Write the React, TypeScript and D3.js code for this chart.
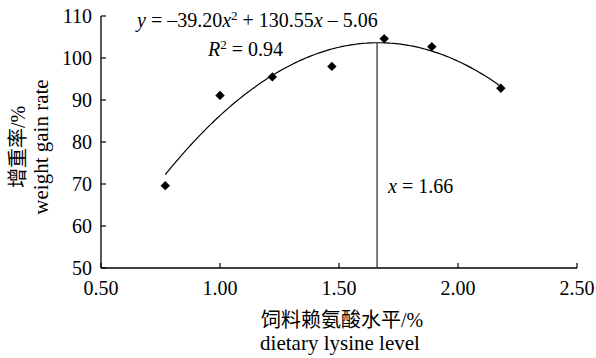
import React from 'react';
import * as d3 from 'd3';

// dietary lysine level (%) and weight gain rate (%)
const lysine = [0.77, 1.0, 1.22, 1.47, 1.69, 1.89, 2.18];
const gainRate = [69.6, 91.1, 95.5, 98.0, 104.6, 102.7, 92.8];
// quadratic fit y = a x^2 + b x + c
const fitCoef = [-39.2, 130.55, -5.06];
const optimumX = 1.66;
const xTicks = [0.5, 1.0, 1.5, 2.0, 2.5];
const yTicks = [50, 60, 70, 80, 90, 100, 110];

const W = 596;
const H = 358;
const serif = '"Liberation Serif", "Times New Roman", "Noto Sans CJK SC", serif';

const App = () => {
  const x = d3.scaleLinear().domain([0.5, 2.5]).range([101, 577]);
  const y = d3.scaleLinear().domain([50, 110]).range([268, 16]);

  const fit = (v: number) => fitCoef[0] * v * v + fitCoef[1] * v + fitCoef[2];
  const xs = d3.range(lysine[0], lysine[lysine.length - 1] + 0.001, 0.01);
  const curve = d3
    .line<number>()
    .x((d) => x(d))
    .y((d) => y(fit(d)))(xs);

  const diamond = d3.symbol().type(d3.symbolSquare).size(44)();

  return (
    <svg width={W} height={H} style={{ position: 'absolute', left: 0, top: 0, background: '#fff' }}
      fontFamily={serif}>
      {/* axes */}
      <line x1={x(0.5)} x2={x(2.5)} y1={y(50)} y2={y(50)} stroke="#000" strokeWidth={1.3} />
      <line x1={x(0.5)} x2={x(0.5)} y1={y(50)} y2={y(110)} stroke="#000" strokeWidth={1.3} />
      {yTicks.map((t) => (
        <g key={'y' + t}>
          <line x1={x(0.5)} x2={x(0.5) + 5} y1={y(t)} y2={y(t)} stroke="#000" strokeWidth={1.2} />
          <text x={x(0.5) - 9} y={y(t) + 7} textAnchor="end" fontSize={20}>{t}</text>
        </g>
      ))}
      {xTicks.map((t) => (
        <g key={'x' + t}>
          <line x1={x(t)} x2={x(t)} y1={y(50)} y2={y(50) - 5} stroke="#000" strokeWidth={1.2} />
          <text x={x(t)} y={295} textAnchor="middle" fontSize={20}>{t.toFixed(2)}</text>
        </g>
      ))}

      {/* fitted curve and optimum */}
      <path d={curve || ''} fill="none" stroke="#000" strokeWidth={1.2} />
      <line x1={x(optimumX)} x2={x(optimumX)} y1={y(50)} y2={y(fit(optimumX))} stroke="#333" strokeWidth={1.3} />

      {lysine.map((v, i) => (
        <path key={i} d={diamond || ''} transform={`translate(${x(v)},${y(gainRate[i])}) rotate(45)`} fill="#000" />
      ))}

      {/* annotations */}
      <text x={137} y={27} fontSize={20}>
        <tspan fontStyle="italic">y</tspan> = –39.20<tspan fontStyle="italic">x</tspan>
        <tspan dy={-7} fontSize={13}>2</tspan>
        <tspan dy={7}> + 130.55</tspan><tspan fontStyle="italic">x</tspan> – 5.06
      </text>
      <text x={208} y={56} fontSize={20}>
        <tspan fontStyle="italic">R</tspan>
        <tspan dy={-7} fontSize={13}>2</tspan>
        <tspan dy={7}> = 0.94</tspan>
      </text>
      <text x={388} y={193} fontSize={20}>
        <tspan fontStyle="italic">x</tspan> = 1.66
      </text>

      {/* axis titles */}
      <text x={342} y={327} textAnchor="middle" fontSize={20}>饲料赖氨酸水平/%</text>
      <text x={340} y={350} textAnchor="middle" fontSize={21}>dietary lysine level</text>
      <g transform="translate(25,147) rotate(-90)">
        <text x={0} y={0} textAnchor="middle" fontSize={20}>增重率/%</text>
        <text x={0} y={23} textAnchor="middle" fontSize={21}>weight gain rate</text>
      </g>
    </svg>
  );
};

export default App;
